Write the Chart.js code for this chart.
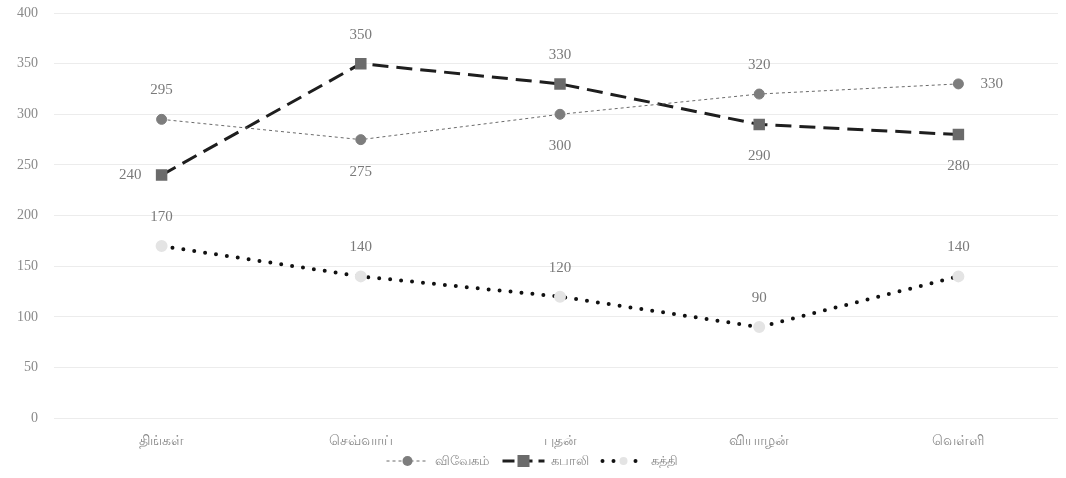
<!DOCTYPE html>
<html>
<head>
<meta charset="utf-8">
<script src="https://cdn.jsdelivr.net/npm/chart.js@4"></script>
<style>
  html, body { margin: 0; padding: 0; background: #fff; }
  #wrap { width: 1066px; height: 478px; }
</style>
</head>
<body>
<div id="wrap"><canvas id="chart" width="1066" height="478"></canvas></div>
<script>
const days = ['திங்கள்', 'செவ்வாய்', 'புதன்', 'வியாழன்', 'வெள்ளி'];
const vivegam = [295, 275, 300, 320, 330];
const kabali = [240, 350, 330, 290, 280];
const kaththi = [170, 140, 120, 90, 140];
const seriesNames = ['விவேகம்', 'கபாலி', 'கத்தி'];
// where each value label sits relative to its point
const vivegamPos = ['top', 'bottom', 'bottom', 'top', 'right'];
const kabaliPos = ['left', 'top', 'top', 'bottom', 'bottom'];
const kaththiPos = ['top', 'top', 'top', 'top', 'top'];

const FONT = '"Liberation Serif", "DejaVu Serif", serif';

const valueLabels = {
    id: 'valueLabels',
    afterDatasetsDraw(chart) {
        const ctx = chart.ctx;
        ctx.save();
        ctx.font = '15px ' + FONT;
        ctx.fillStyle = '#7a7a7a';
        ctx.textBaseline = 'middle';
        chart.data.datasets.forEach((ds, i) => {
            const meta = chart.getDatasetMeta(i);
            meta.data.forEach((pt, j) => {
                const pos = ds.labelPos[j];
                let x = pt.x, y = pt.y;
                ctx.textAlign = 'center';
                if (pos === 'top') y -= 29;
                else if (pos === 'bottom') y += 32;
                else if (pos === 'left') { x -= 20; ctx.textAlign = 'right'; }
                else if (pos === 'right') { x += 22; ctx.textAlign = 'left'; }
                ctx.fillText(String(ds.data[j]), x, y);
            });
        });
        ctx.restore();
    }
};

const lineLegend = {
    id: 'lineLegend',
    afterDraw(chart) {
        const ctx = chart.ctx;
        ctx.save();
        ctx.font = '13px ' + FONT;
        const sample = 42, gap = 6, spacing = 14;
        const items = chart.data.datasets.map(ds => ({ ds, w: sample + gap + ctx.measureText(ds.label).width }));
        const total = items.reduce((s, it) => s + it.w, 0) + spacing * (items.length - 1);
        let x = 532 - total / 2;
        const y = 461;
        items.forEach(it => {
            const ds = it.ds;
            ctx.save();
            ctx.strokeStyle = ds.borderColor;
            ctx.lineWidth = ds.borderWidth;
            ctx.lineCap = ds.borderCapStyle || 'butt';
            ctx.setLineDash(ds.legendDash || ds.borderDash || []);
            ctx.beginPath();
            ctx.moveTo(x, y);
            ctx.lineTo(x + sample, y);
            ctx.stroke();
            ctx.setLineDash([]);
            ctx.fillStyle = ds.pointBackgroundColor;
            const cx = x + sample / 2, r = ds.pointRadius;
            if (ds.pointStyle === 'rect') {
                ctx.fillRect(cx - r, y - r, 2 * r, 2 * r);
            } else {
                ctx.beginPath();
                ctx.arc(cx, y, r, 0, Math.PI * 2);
                ctx.fill();
            }
            ctx.restore();
            ctx.fillStyle = '#8a8a8a';
            ctx.textBaseline = 'middle';
            ctx.textAlign = 'left';
            ctx.fillText(ds.label, x + sample + gap, y + 1);
            x += it.w + spacing;
        });
        ctx.restore();
    }
};

new Chart(document.getElementById('chart'), {
    type: 'line',
    data: {
        labels: days,
        datasets: [
            {
                label: seriesNames[0],
                data: vivegam,
                labelPos: vivegamPos,
                borderColor: '#6a6a6a',
                borderWidth: 1,
                borderDash: [3, 3],
                pointStyle: 'circle',
                pointRadius: 5,
                pointBackgroundColor: '#7d7d7d',
                pointBorderColor: '#7d7d7d',
                tension: 0
            },
            {
                label: seriesNames[1],
                data: kabali,
                labelPos: kabaliPos,
                borderColor: '#1e1e1e',
                borderWidth: 3,
                borderDash: [16, 8],
                legendDash: [12, 6],
                pointStyle: 'rect',
                pointRadius: 6,
                pointBackgroundColor: '#6b6b6b',
                pointBorderColor: '#6b6b6b',
                tension: 0
            },
            {
                label: seriesNames[2],
                data: kaththi,
                labelPos: kaththiPos,
                borderColor: '#111',
                borderWidth: 4,
                borderDash: [0, 11],
                borderCapStyle: 'round',
                pointStyle: 'circle',
                pointRadius: 4,
                pointBackgroundColor: '#e4e4e4',
                pointBorderColor: '#e4e4e4',
                tension: 0
            }
        ]
    },
    options: {
        responsive: false,
        animation: false,
        layout: { autoPadding: false, padding: { top: 13, right: 8, bottom: 21, left: 0 } },
        plugins: {
            legend: { display: false },
            tooltip: { enabled: false }
        },
        scales: {
            x: {
                offset: true,
                grid: { display: false },
                border: { display: false },
                ticks: { color: '#8a8a8a', font: { family: FONT, size: 14 }, padding: 7 }
            },
            y: {
                min: 0,
                max: 400,
                afterFit(scale) { scale.width = 62; scale.paddingTop = 0; scale.paddingBottom = 0; },
                grid: { color: '#ececec', tickLength: 8, tickColor: '#ececec' },
                border: { display: false },
                ticks: { stepSize: 50, color: '#8a8a8a', font: { family: FONT, size: 14 }, padding: 16 }
            }
        }
    },
    plugins: [valueLabels, lineLegend]
});
</script>
</body>
</html>
